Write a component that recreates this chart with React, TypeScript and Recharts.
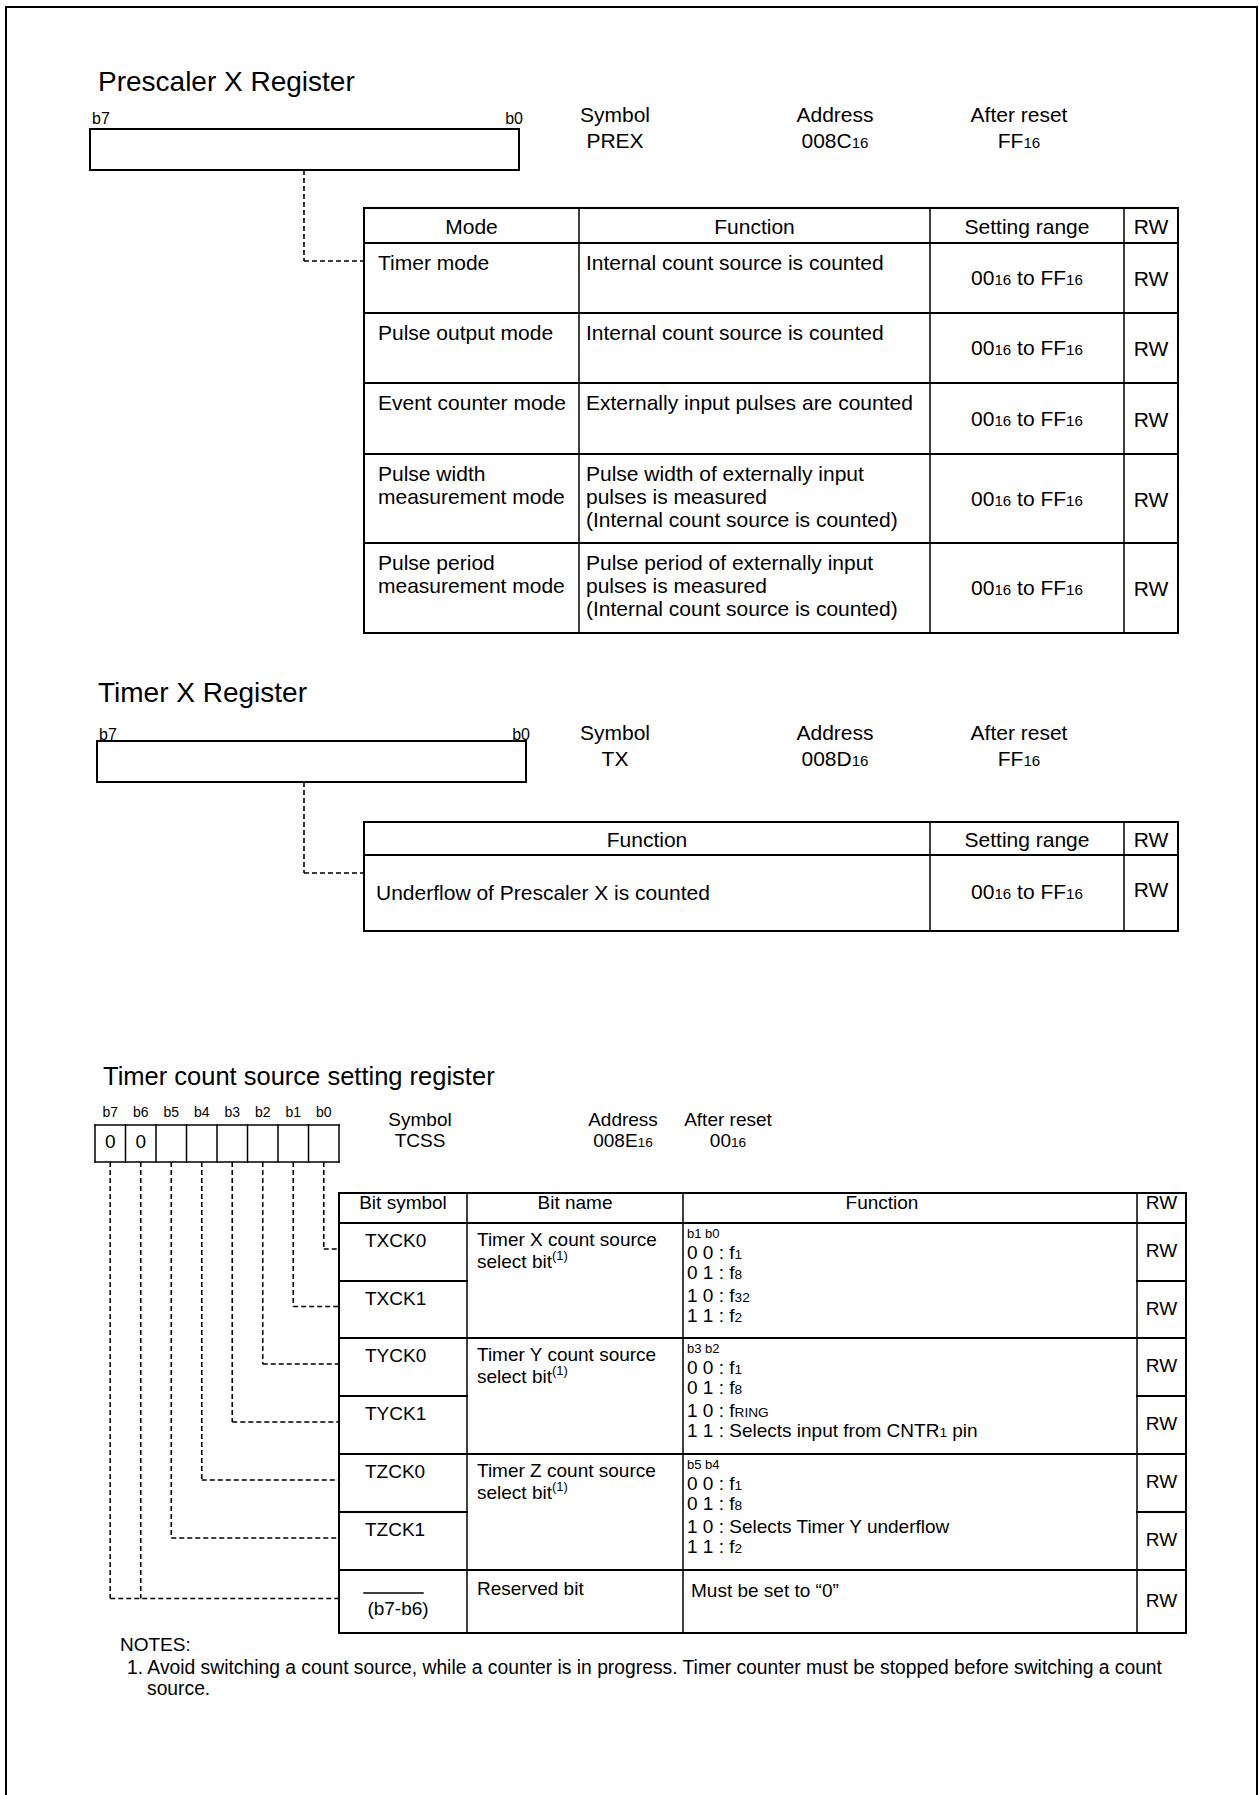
import React from 'react'
import { ComposedChart, XAxis, YAxis, ReferenceLine, Scatter } from 'recharts'

const W = 1259
const H = 1795
const FONT = '"Liberation Sans", Arial, Helvetica, sans-serif'
// horizontal stretch of the glyphs (1 = plain Arial metrics)
const SX = 1.0

// ---- content ----
const registerTitles = ['Prescaler X Register', 'Timer X Register', 'Timer count source setting register']
const infoHeads = ['Symbol', 'Address', 'After reset']
const registerSymbols = ['PREX', 'TX', 'TCSS']
const registerAddresses = ['008C_{16}', '008D_{16}', '008E_{16}']
const registerResets = ['FF_{16}', 'FF_{16}', '00_{16}']

const prexHeader = ['Mode', 'Function', 'Setting range', 'RW']
const prexModes = [
  ['Timer mode'],
  ['Pulse output mode'],
  ['Event counter mode'],
  ['Pulse width', 'measurement mode'],
  ['Pulse period', 'measurement mode'],
]
const prexFunctions = [
  ['Internal count source is counted'],
  ['Internal count source is counted'],
  ['Externally input pulses are counted'],
  ['Pulse width of externally input', 'pulses is measured', '(Internal count source is counted)'],
  ['Pulse period of externally input', 'pulses is measured', '(Internal count source is counted)'],
]
const settingRange = '00_{16} to FF_{16}'
const access = 'RW'

const txHeader = ['Function', 'Setting range', 'RW']
const txFunctions = ['Underflow of Prescaler X is counted']

const bitLabels = ['b7', 'b6', 'b5', 'b4', 'b3', 'b2', 'b1', 'b0']
const bitFixed = ['0', '0', '', '', '', '', '', '']
const tcssHeader = ['Bit symbol', 'Bit name', 'Function', 'RW']
const tcssBitSymbols = ['TXCK0', 'TXCK1', 'TYCK0', 'TYCK1', 'TZCK0', 'TZCK1']
const tcssBitNames = [
  ['Timer X count source', 'select bit^{(1)}'],
  ['Timer Y count source', 'select bit^{(1)}'],
  ['Timer Z count source', 'select bit^{(1)}'],
  ['Reserved bit'],
]
const tcssFunctionBits = ['b1 b0', 'b3 b2', 'b5 b4']
const tcssFunctions = [
  ['0 0 : f_{1}', '0 1 : f_{8}', '1 0 : f_{32}', '1 1 : f_{2}'],
  ['0 0 : f_{1}', '0 1 : f_{8}', '1 0 : f_{RING}', '1 1 : Selects input from CNTR_{1} pin'],
  ['0 0 : f_{1}', '0 1 : f_{8}', '1 0 : Selects Timer Y underflow', '1 1 : f_{2}'],
]
const reservedSymbol = '(b7-b6)'
const reservedFunction = 'Must be set to \u201c0\u201d'
const notes = [
  'NOTES:',
  '1. Avoid switching a count source, while a counter is in progress. Timer counter must be stopped before switching a count',
  'source.',
]

// ---- layout (page pixels) ----
const prexCols = [364, 579, 930, 1124, 1178]
const prexRows = [208, 243, 313, 383, 454, 543, 633]
const txCols = [364, 930, 1124, 1178]
const txRows = [822, 855, 931]
const tcssCols = [339, 467, 683, 1137, 1186]
const tcssRows = [1193, 1223, 1338, 1454, 1570, 1633]
const tcssSplits = [1281, 1396, 1512]
const regBoxes = [
  { l: 90, t: 129, r: 519, b: 170, lab: 124, b0: 523 },
  { l: 97, t: 741, r: 526, b: 782, lab: 740, b0: 530 },
]
const bitBox = { l: 95, t: 1125, b: 1162, w: 30.5 }

type Seg = { x1: number; y1: number; x2: number; y2: number; w: number; dash?: string }
type Lbl = { x: number; y: number; text: string; size: number; anchor: 'start' | 'middle' | 'end' }

const segs: Seg[] = []
const labels: Lbl[] = []
const line = (x1: number, y1: number, x2: number, y2: number, w = 2, dash?: string) =>
  segs.push({ x1, y1, x2, y2, w, dash })
const dashed = (x1: number, y1: number, x2: number, y2: number) => line(x1, y1, x2, y2, 1.6, '5 3')
const rect = (l: number, t: number, r: number, b: number, w = 2) => {
  line(l, t, r, t, w)
  line(l, b, r, b, w)
  line(l, t, l, b, w)
  line(r, t, r, b, w)
}
const put = (x: number, y: number, text: string, size: number, anchor: Lbl['anchor'] = 'start') =>
  labels.push({ x, y, text, size, anchor })
const mid = (a: number, b: number) => (a + b) / 2
const grid = (cols: number[], rows: number[]) => {
  rows.forEach((y) => line(cols[0], y, cols[cols.length - 1], y, 2))
  cols.forEach((x, i) => line(x, rows[0], x, rows[rows.length - 1], i === 0 || i === cols.length - 1 ? 2 : 1.5))
}

// page frame (open at the bottom)
line(6, 7, 1257, 7, 2)
line(6, 7, 6, H, 2)
line(1257, 7, 1257, H, 2)

// titles
put(98, 91, registerTitles[0], 28)
put(98, 702, registerTitles[1], 28)
put(103, 1085, registerTitles[2], 25.5)

// symbol / address / after reset blocks
const infoBlocks = [
  { xs: [615, 835, 1019], y: 122, step: 26, size: 21 },
  { xs: [615, 835, 1019], y: 740, step: 26, size: 21 },
  { xs: [420, 623, 728], y: 1126, step: 21, size: 19 },
]
infoBlocks.forEach((b, r) => {
  const vals = [registerSymbols[r], registerAddresses[r], registerResets[r]]
  b.xs.forEach((x, i) => {
    put(x, b.y, infoHeads[i], b.size, 'middle')
    put(x, b.y + b.step, vals[i], b.size, 'middle')
  })
})

// 8-bit register boxes for PREX and TX, with their leader lines
regBoxes.forEach((b, i) => {
  rect(b.l, b.t, b.r, b.b, 2)
  put(b.l + 2, b.lab, 'b7', 16)
  put(b.b0, b.lab, 'b0', 16, 'end')
  const rows = i === 0 ? prexRows : txRows
  const ty = rows[1] + 18
  dashed(304, b.b, 304, ty)
  dashed(304, ty, prexCols[0], ty)
})

// PREX table
grid(prexCols, prexRows)
prexHeader.forEach((h, i) => put(mid(prexCols[i], prexCols[i + 1]), mid(prexRows[0], prexRows[1]) + 8, h, 21, 'middle'))
prexModes.forEach((m, r) => {
  const top = prexRows[r + 1]
  const c = mid(top, prexRows[r + 2])
  m.forEach((t, k) => put(prexCols[0] + 14, top + 27 + 23 * k, t, 21))
  prexFunctions[r].forEach((t, k) => put(prexCols[1] + 7, top + 27 + 23 * k, t, 21))
  put(mid(prexCols[2], prexCols[3]), c + 7, settingRange, 21, 'middle')
  put(mid(prexCols[3], prexCols[4]), c + 8, access, 21, 'middle')
})

// TX table
grid(txCols, txRows)
txHeader.forEach((h, i) => put(mid(txCols[i], txCols[i + 1]), mid(txRows[0], txRows[1]) + 8, h, 21, 'middle'))
txFunctions.forEach((t, r) => {
  const c = mid(txRows[r + 1], txRows[r + 2])
  put(txCols[0] + 12, c + 7, t, 21)
  put(mid(txCols[1], txCols[2]), c + 6, settingRange, 21, 'middle')
  put(mid(txCols[2], txCols[3]), c + 4, access, 21, 'middle')
})

// TCSS bit cells
rect(bitBox.l, bitBox.t, bitBox.l + 8 * bitBox.w, bitBox.b, 1.5)
bitLabels.forEach((b, k) => {
  const cx = bitBox.l + bitBox.w * (k + 0.5)
  if (k > 0) line(bitBox.l + bitBox.w * k, bitBox.t, bitBox.l + bitBox.w * k, bitBox.b, 1.5)
  put(cx, 1117, b, 14, 'middle')
  if (bitFixed[k]) put(cx, 1148, bitFixed[k], 19, 'middle')
})

// TCSS table
const subEdges = [tcssRows[1], tcssSplits[0], tcssRows[2], tcssSplits[1], tcssRows[3], tcssSplits[2], tcssRows[4], tcssRows[5]]
grid(tcssCols, tcssRows)
tcssSplits.forEach((s) => {
  line(tcssCols[0], s, tcssCols[1], s, 2)
  line(tcssCols[3], s, tcssCols[4], s, 2)
})
const tcssHeadX = [mid(tcssCols[0], tcssCols[1]), mid(tcssCols[1], tcssCols[2]), 882, mid(tcssCols[3], tcssCols[4])]
tcssHeader.forEach((h, i) => put(tcssHeadX[i], 1209, h, 19, 'middle'))

// leader lines from each bit to its row
bitLabels.forEach((_, k) => {
  const bit = 7 - k
  const sub = Math.min(bit, 6)
  const x = bitBox.l + bitBox.w * (k + 0.5)
  const ty = mid(subEdges[sub], subEdges[sub + 1]) - 3
  dashed(x, bitBox.b, x, ty)
  if (bit !== 6) dashed(x, ty, tcssCols[0], ty)
})

tcssBitSymbols.forEach((s, k) => put(tcssCols[0] + 26, subEdges[k] + 24, s, 19))
line(364, 1593, 423, 1593, 1.5)
put(398, 1615, reservedSymbol, 19, 'middle')
tcssBitNames.forEach((lines, g) => {
  const top = tcssRows[g + 1]
  lines.forEach((t, k) => put(tcssCols[1] + 10, top + (g === 3 ? 25 : 23) + 22 * k, t, 19))
})
const fnOffsets = [36, 56, 79, 99]
tcssFunctions.forEach((lines, g) => {
  const top = tcssRows[g + 1]
  put(tcssCols[2] + 4, top + 15, tcssFunctionBits[g], 13)
  lines.forEach((t, k) => put(tcssCols[2] + 4, top + fnOffsets[k], t, 19))
})
put(tcssCols[2] + 8, tcssRows[4] + 27, reservedFunction, 19)
subEdges.slice(0, -1).forEach((e, k) => put(mid(tcssCols[3], tcssCols[4]), mid(e, subEdges[k + 1]) + 5, access, 19, 'middle'))

// notes
put(120, 1651, notes[0], 19)
put(127, 1674, notes[1], 19.3)
put(147, 1695, notes[2], 19.3)

// Text drawn at the scatter point; _{..} is a subscript, ^{..} a superscript.
const TextMark = (props: any) => {
  const { cx, cy, payload } = props
  if (cx == null || cy == null || !payload) return <g />
  const d = payload as Lbl
  const fs = d.size / SX
  const runs = d.text.split(/(_\{[^}]*\}|\^\{[^}]*\})/).filter((r) => r !== '')
  let shift = 0
  return (
    <text
      transform={`translate(${cx} ${cy}) scale(${SX} 1)`}
      x={0}
      y={0}
      fontFamily={FONT}
      fontSize={fs}
      fill="#000"
      textAnchor={d.anchor}
    >
      {runs.map((r, i) => {
        let t = r
        let size = fs
        let target = 0
        if (r.startsWith('_{')) {
          t = r.slice(2, -1)
          size = fs * 0.72
        } else if (r.startsWith('^{')) {
          t = r.slice(2, -1)
          size = fs * 0.68
          target = -fs * 0.4
        }
        const dy = target - shift
        shift = target
        return (
          <tspan key={i} fontSize={size} dy={dy}>
            {t}
          </tspan>
        )
      })}
    </text>
  )
}

export default function App() {
  return (
    <div style={{ position: 'absolute', left: 0, top: 0, width: W, height: H, background: '#fff' }}>
      <ComposedChart width={W} height={H} margin={{ top: 0, right: 0, bottom: 0, left: 0 }}>
        <XAxis type="number" dataKey="x" domain={[0, W]} hide allowDataOverflow />
        <YAxis type="number" dataKey="y" domain={[0, H]} reversed hide allowDataOverflow />
        {segs.map((s, i) => (
          <ReferenceLine
            key={i}
            segment={[
              { x: s.x1, y: s.y1 },
              { x: s.x2, y: s.y2 },
            ]}
            stroke="#000"
            strokeWidth={s.w}
            strokeDasharray={s.dash}
            strokeLinecap={s.dash ? 'butt' : 'square'}
            ifOverflow="visible"
          />
        ))}
        <Scatter data={labels} shape={TextMark} isAnimationActive={false} />
      </ComposedChart>
    </div>
  )
}
